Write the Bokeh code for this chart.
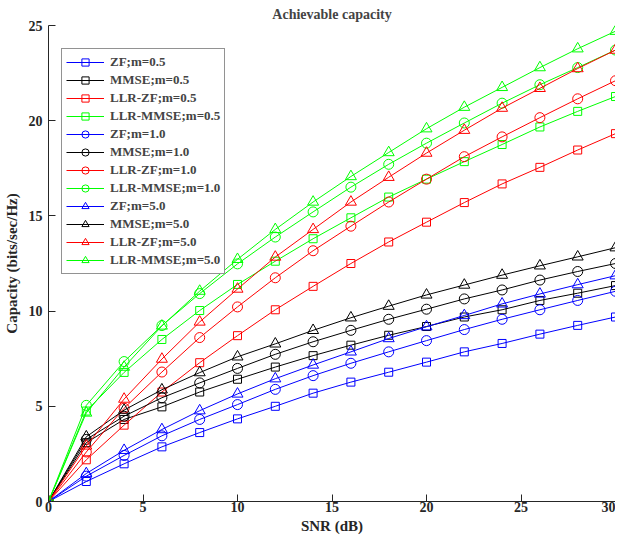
from bokeh.plotting import figure
from bokeh.models import FixedTicker, Legend, LegendItem
from bokeh.embed import file_html
from bokeh.resources import INLINE

snr = [0, 2, 4, 6, 8, 10, 12, 14, 16, 18, 20, 22, 24, 26, 28, 30]

zf_05 = [0, 1.05, 1.98, 2.87, 3.62, 4.34, 5.00, 5.69, 6.27, 6.79, 7.32, 7.86, 8.30, 8.79, 9.25, 9.69]
mmse_05 = [0, 3.09, 4.31, 4.97, 5.75, 6.42, 7.06, 7.66, 8.21, 8.73, 9.19, 9.69, 10.07, 10.56, 10.94, 11.34]
llrzf_05 = [0, 2.19, 4.01, 5.75, 7.29, 8.71, 10.07, 11.30, 12.50, 13.63, 14.67, 15.70, 16.68, 17.55, 18.46, 19.32]
llrmmse_05 = [0, 4.75, 6.78, 8.51, 10.03, 11.40, 12.62, 13.80, 14.90, 15.99, 16.93, 17.85, 18.75, 19.67, 20.49, 21.27]
zf_1 = [0, 1.33, 2.42, 3.45, 4.31, 5.09, 5.89, 6.61, 7.26, 7.86, 8.45, 9.03, 9.57, 10.07, 10.56, 11.04]
mmse_1 = [0, 3.26, 4.48, 5.45, 6.23, 6.99, 7.73, 8.39, 8.99, 9.57, 10.10, 10.64, 11.11, 11.63, 12.08, 12.50]
llrzf_1 = [0, 2.60, 4.90, 6.80, 8.61, 10.22, 11.75, 13.17, 14.46, 15.73, 16.93, 18.11, 19.15, 20.16, 21.15, 22.10]
llrmmse_1 = [0, 5.05, 7.35, 9.24, 10.92, 12.48, 13.89, 15.21, 16.51, 17.71, 18.82, 19.88, 20.92, 21.89, 22.79, 23.71]
zf_5 = [0, 1.47, 2.69, 3.78, 4.77, 5.65, 6.45, 7.17, 7.86, 8.56, 9.18, 9.77, 10.38, 10.90, 11.39, 11.86]
mmse_5 = [0, 3.40, 4.80, 5.87, 6.77, 7.60, 8.28, 8.99, 9.65, 10.26, 10.85, 11.37, 11.89, 12.38, 12.85, 13.33]
llrzf_5 = [0, 2.92, 5.38, 7.48, 9.43, 11.16, 12.84, 14.29, 15.73, 17.03, 18.30, 19.50, 20.66, 21.70, 22.74, 23.71]
llrmmse_5 = [0, 4.65, 7.06, 9.22, 11.05, 12.72, 14.29, 15.73, 17.07, 18.33, 19.58, 20.71, 21.75, 22.79, 23.78, 24.70]

labels = ["ZF;m=0.5", "MMSE;m=0.5", "LLR-ZF;m=0.5", "LLR-MMSE;m=0.5",
          "ZF;m=1.0", "MMSE;m=1.0", "LLR-ZF;m=1.0", "LLR-MMSE;m=1.0",
          "ZF;m=5.0", "MMSE;m=5.0", "LLR-ZF;m=5.0", "LLR-MMSE;m=5.0"]
series = [zf_05, mmse_05, llrzf_05, llrmmse_05,
          zf_1, mmse_1, llrzf_1, llrmmse_1,
          zf_5, mmse_5, llrzf_5, llrmmse_5]
colors = ["#0000ff", "#000000", "#ff0000", "#00ff00"] * 3
markers = ["square"] * 4 + ["circle"] * 4 + ["triangle"] * 4
sizes = {"square": 8, "circle": 10, "triangle": 11}

x_ticks = [0, 5, 10, 15, 20, 25, 30]
y_ticks = [0, 5, 10, 15, 20, 25]
x_title = "SNR (dB)"
y_title = "Capacity (bits/sec/Hz)"

FONT = "Liberation Serif"

p = figure(width=615, height=536, output_backend="svg", toolbar_location=None,
           x_range=(0, 30), y_range=(0, 25),
           min_border_left=39, min_border_right=0, min_border_bottom=0, min_border_top=0,
           title="Achievable capacity")
p.title.text_font = FONT
p.title.text_font_size = "14px"
p.title.text_font_style = "bold"
p.title.align = "center"
p.title.offset = 0
p.title.standoff = 8

p.outline_line_color = None
p.xgrid.visible = False
p.ygrid.visible = False

for ax, ticks in ((p.xaxis[0], x_ticks), (p.yaxis[0], y_ticks)):
    ax.ticker = FixedTicker(ticks=ticks)
    ax.major_tick_in = 7
    ax.major_tick_out = 0
    ax.minor_tick_in = 0
    ax.minor_tick_out = 0
    ax.axis_line_color = "#262626"
    ax.major_tick_line_color = "#262626"
    ax.major_label_text_font = FONT
    ax.major_label_text_font_style = "bold"
    ax.major_label_text_font_size = "14px"
    ax.major_label_text_color = "#262626"
    ax.axis_label_text_font = FONT
    ax.axis_label_text_font_style = "bold"
    ax.axis_label_text_font_size = "15px"
    ax.axis_label_text_color = "#262626"

p.xaxis.axis_label = x_title
p.yaxis.axis_label = y_title
p.xaxis.major_label_standoff = 0
p.yaxis.major_label_standoff = 6
p.xaxis.axis_label_standoff = 3
p.yaxis.axis_label_standoff = 6

items = []
for lab, ys, col, mk in zip(labels, series, colors, markers):
    r1 = p.line(snr, ys, line_color=col, line_width=1)
    r2 = p.scatter(snr, ys, marker=mk, size=sizes[mk], line_color=col,
                   fill_color=None, line_width=1)
    items.append(LegendItem(label=lab, renderers=[r1, r2]))

legend = Legend(items=items, location=(13, 227))
legend.label_text_font = FONT
legend.label_text_font_style = "bold"
legend.label_text_font_size = "13px"
legend.label_height = 18
legend.glyph_height = 18
legend.glyph_width = 38
legend.spacing = 0
legend.padding = 4
legend.margin = 0
legend.label_standoff = 6
legend.border_line_color = "#262626"
legend.border_line_width = 1
legend.background_fill_alpha = 1.0
p.add_layout(legend, "center")

open("out.html", "w").write(file_html(p, INLINE))
